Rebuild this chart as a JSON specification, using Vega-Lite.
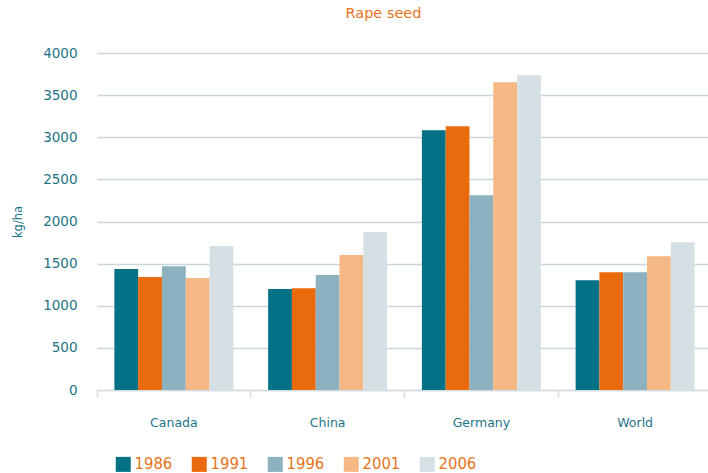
{
  "$schema": "https://vega.github.io/schema/vega-lite/v6.json",
  "autosize": "none",
  "width": 615,
  "height": 337,
  "padding": {"left": 97, "top": 53, "right": 0, "bottom": 83},
  "background": "white",
  "title": {
    "text": "Rape seed",
    "color": "#e8731a",
    "font": "DejaVu Sans",
    "fontSize": 14.5,
    "fontWeight": 500,
    "anchor": "middle",
    "dx": -21,
    "offset": 25
  },
  "data": {
    "values": [
      {"region": "Canada", "year": "1986", "value": 1435},
      {"region": "Canada", "year": "1991", "value": 1340},
      {"region": "Canada", "year": "1996", "value": 1470},
      {"region": "Canada", "year": "2001", "value": 1328},
      {"region": "Canada", "year": "2006", "value": 1708},
      {"region": "China", "year": "1986", "value": 1198},
      {"region": "China", "year": "1991", "value": 1209},
      {"region": "China", "year": "1996", "value": 1364},
      {"region": "China", "year": "2001", "value": 1601},
      {"region": "China", "year": "2006", "value": 1874},
      {"region": "Germany", "year": "1986", "value": 3083},
      {"region": "Germany", "year": "1991", "value": 3130},
      {"region": "Germany", "year": "1996", "value": 2312},
      {"region": "Germany", "year": "2001", "value": 3652},
      {"region": "Germany", "year": "2006", "value": 3735},
      {"region": "World", "year": "1986", "value": 1304},
      {"region": "World", "year": "1991", "value": 1399},
      {"region": "World", "year": "1996", "value": 1399},
      {"region": "World", "year": "2001", "value": 1589},
      {"region": "World", "year": "2006", "value": 1755}
    ]
  },
  "mark": {"type": "bar"},
  "encoding": {
    "x": {
      "field": "region",
      "type": "nominal",
      "sort": ["Canada", "China", "Germany", "World"],
      "scale": {"paddingInner": 0, "paddingOuter": 0},
      "axis": {
        "title": null,
        "labelAngle": 0,
        "bandPosition": 0,
        "labelColor": "#1d7487",
        "labelFont": "DejaVu Sans",
        "labelFontSize": 12.5,
        "labelFontWeight": 500,
        "labelPadding": 19,
        "domainColor": "#d3dde2",
        "domainWidth": 1.5,
        "tickColor": "#d3dde2",
        "tickWidth": 1.5,
        "tickSize": 7,
        "grid": false
      }
    },
    "xOffset": {
      "field": "year",
      "type": "nominal",
      "scale": {"paddingInner": 0, "paddingOuter": 0.73}
    },
    "y": {
      "field": "value",
      "type": "quantitative",
      "scale": {"domain": [0, 4000]},
      "axis": {
        "title": "kg/ha",
        "titleColor": "#1d7487",
        "titleFont": "DejaVu Sans",
        "titleFontSize": 11.5,
        "titleFontWeight": 500,
        "titlePadding": 19,
        "format": "d",
        "values": [0, 500, 1000, 1500, 2000, 2500, 3000, 3500, 4000],
        "labelColor": "#1d7487",
        "labelFont": "DejaVu Sans",
        "labelFontSize": 13.5,
        "labelPadding": 20,
        "domain": false,
        "ticks": false,
        "gridColor": "#cad6db",
        "gridWidth": 1.5
      }
    },
    "color": {
      "field": "year",
      "type": "nominal",
      "scale": {
        "domain": ["1986", "1991", "1996", "2001", "2006"],
        "range": ["#037287", "#ea6a0e", "#8db1bf", "#f5b885", "#d5e0e5"]
      },
      "legend": {
        "title": null,
        "orient": "none",
        "direction": "horizontal",
        "legendX": 18,
        "legendY": 403,
        "symbolType": "square",
        "symbolSize": 225,
        "symbolStrokeWidth": 0,
        "symbolOpacity": 1,
        "labelColor": "#e8731a",
        "labelFont": "DejaVu Sans Condensed",
        "labelFontSize": 16.5,
        "labelOffset": 3,
        "columnPadding": 18
      }
    }
  },
  "config": {
    "view": {"stroke": null}
  }
}
